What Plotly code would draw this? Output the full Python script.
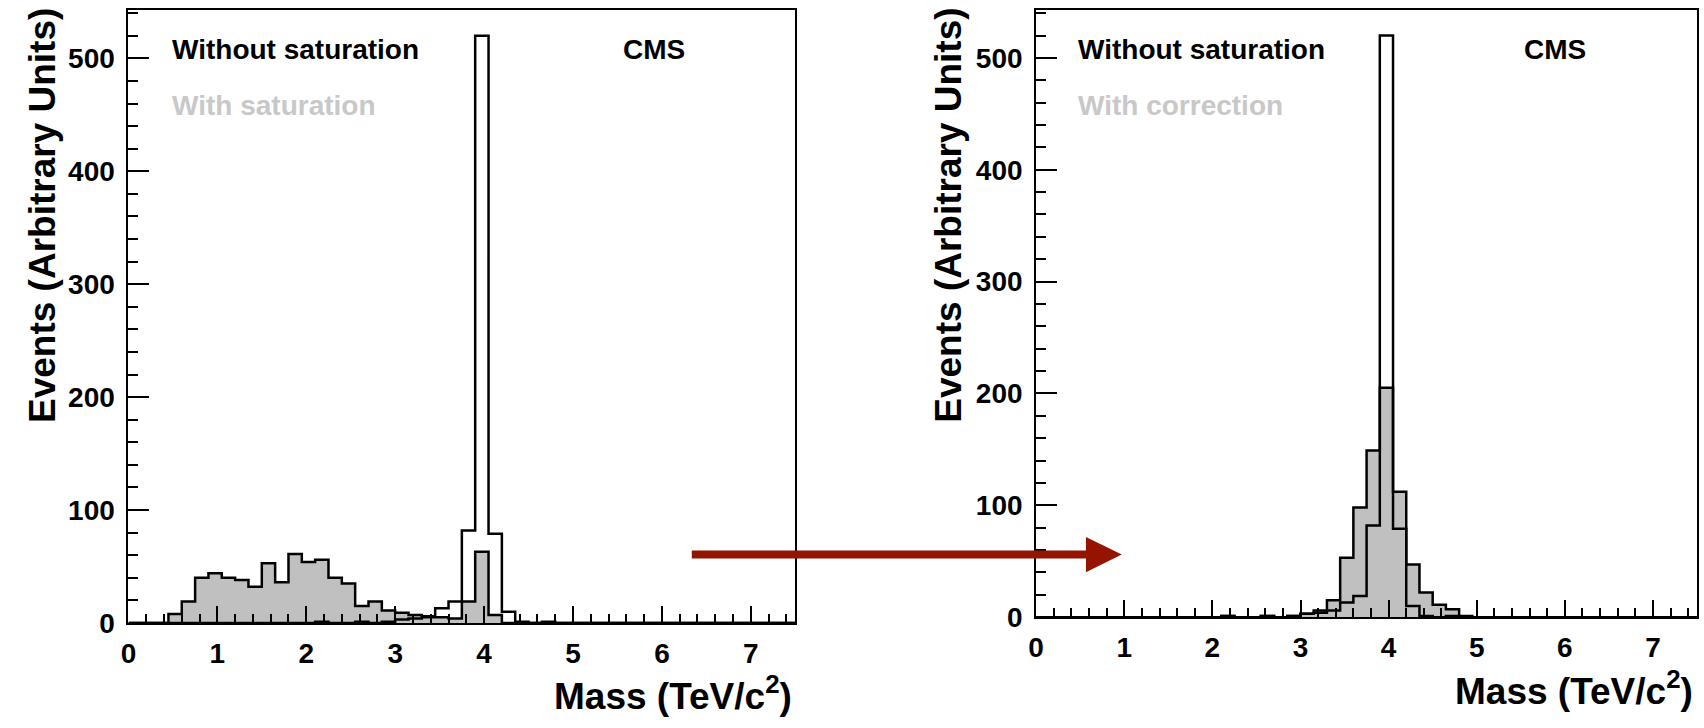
import numpy as np
import plotly.graph_objects as go

# ---------------- data (50 bins of 0.15 TeV/c^2 from 0 to 7.5) ----------------
bin_width = 0.15
n_bins = 50
x_min, x_max = 0.0, 7.5
y_max = 543

# "Without saturation" (white, outline only) - same sample in both panels
without_saturation = [0, 0, 0, 0, 0, 0, 0, 0, 0, 0,
                      0, 0, 0, 0, 1, 0, 0, 1, 0, 1,
                      3, 4, 6, 13, 19, 82, 520, 79, 10, 1,
                      0, 1, 0, 0, 0, 0, 0, 0, 0, 0,
                      0, 0, 0, 0, 0, 0, 0, 0, 0, 0]

# "With saturation" (grey, left panel)
with_saturation = [0, 0, 0, 8, 19, 40, 44, 40, 38, 32,
                   53, 36, 61, 54, 56, 40, 35, 15, 19, 11,
                   9, 7, 5, 5, 4, 19, 63, 7, 0, 0,
                   0, 0, 0, 0, 0, 0, 0, 0, 0, 0,
                   0, 0, 0, 0, 0, 0, 0, 0, 0, 0]

# "With correction" (grey, right panel)
with_correction = [0, 0, 0, 0, 0, 0, 0, 0, 0, 0,
                   0, 0, 0, 0, 1, 0, 0, 1, 0, 1,
                   3, 6, 15, 53, 98, 149, 205, 112, 47, 22,
                   11, 7, 1, 0, 0, 0, 0, 0, 0, 0,
                   0, 0, 0, 0, 0, 0, 0, 0, 0, 0]

x_tick_labels = ["0", "1", "2", "3", "4", "5", "6", "7"]
y_tick_labels = ["0", "100", "200", "300", "400", "500"]

# ---------------- styling ----------------
W, H = 1704, 728
FONT = "Liberation Sans, Arial, Helvetica, sans-serif"
FILL_GREY = "#c0c0c0"
TEXT_GREY = "#c8c8c8"
ARROW_RED = "#951400"
LW = 2.5

edges = np.arange(n_bins + 1) * bin_width


def step_xy(vals):
    v = list(vals) + [vals[-1]]
    return edges, v


def px(xp):
    """page pixel -> paper x"""
    return xp / W


def py(yp):
    """page pixel -> paper y"""
    return 1 - yp / H


fig = go.Figure()

panels = [
    dict(xa="x", ya="y", grey=with_saturation,
         xdom=[px(121), px(791)], ydom=[py(637), py(10)]),
    dict(xa="x2", ya="y2", grey=with_correction,
         xdom=[px(1033), px(1697)], ydom=[py(631), py(10)]),
]

for p in panels:
    xs, ys = step_xy(p["grey"])
    fig.add_trace(go.Scatter(x=xs, y=ys, mode="lines", line_shape="hv",
                             fill="tozeroy", fillcolor=FILL_GREY,
                             line=dict(color="black", width=LW),
                             xaxis=p["xa"], yaxis=p["ya"], showlegend=False,
                             hoverinfo="skip"))
    xs, ys = step_xy(without_saturation)
    fig.add_trace(go.Scatter(x=xs, y=ys, mode="lines", line_shape="hv",
                             line=dict(color="black", width=LW),
                             xaxis=p["xa"], yaxis=p["ya"], showlegend=False,
                             hoverinfo="skip"))

tickfont = dict(family=FONT, size=28, color="black", weight="bold")


def xaxis_cfg(dom, anchor):
    return dict(domain=dom, anchor=anchor, range=[x_min, x_max],
                tickmode="array", tickvals=[float(t) for t in x_tick_labels],
                ticktext=x_tick_labels,
                ticks="inside", ticklen=17, tickwidth=2, tickcolor="black",
                minor=dict(ticks="inside", ticklen=9, tickwidth=2,
                           tickcolor="black", dtick=0.2, tick0=0),
                showline=True, linecolor="black", linewidth=2, mirror=True,
                showgrid=False, zeroline=False, tickfont=tickfont,
                ticklabelstandoff=4, fixedrange=True)


def yaxis_cfg(dom, anchor):
    return dict(domain=dom, anchor=anchor, range=[0, y_max],
                tickmode="array", tickvals=[float(t) for t in y_tick_labels],
                ticktext=y_tick_labels,
                ticks="inside", ticklen=21, tickwidth=2, tickcolor="black",
                minor=dict(ticks="inside", ticklen=10, tickwidth=2,
                           tickcolor="black", dtick=20, tick0=0),
                showline=True, linecolor="black", linewidth=2, mirror=True,
                showgrid=False, zeroline=False, tickfont=tickfont,
                ticklabelstandoff=6, fixedrange=True)


fig.update_layout(
    width=W, height=H, autosize=False,
    margin=dict(l=0, r=0, t=0, b=0),
    paper_bgcolor="white", plot_bgcolor="white",
    xaxis=xaxis_cfg(panels[0]["xdom"], "y"),
    yaxis=yaxis_cfg(panels[0]["ydom"], "x"),
    xaxis2=xaxis_cfg(panels[1]["xdom"], "y2"),
    yaxis2=yaxis_cfg(panels[1]["ydom"], "x2"),
)

ann = []
txt_font = dict(family=FONT, size=28, color="black", weight="bold")
grey_font = dict(family=FONT, size=28, color=TEXT_GREY, weight="bold")
title_font = dict(family=FONT, size=37, color="black", weight="bold")

for xl, label, cms_x, xt_right, xt_y, yt_x in [
        (163, "With saturation", 649, 790, 709, 34),
        (1073, "With correction", 1554, 1695, 704, 945)]:
    ann.append(dict(x=px(xl), y=py(51), xref="paper", yref="paper",
                    text="Without saturation", showarrow=False,
                    xanchor="left", yanchor="middle", font=txt_font))
    ann.append(dict(x=px(xl), y=py(108), xref="paper", yref="paper",
                    text=label, showarrow=False,
                    xanchor="left", yanchor="middle", font=grey_font))
    ann.append(dict(x=px(cms_x), y=py(51), xref="paper", yref="paper",
                    text="CMS", showarrow=False,
                    xanchor="center", yanchor="middle", font=txt_font))
    ann.append(dict(x=px(xt_right), y=py(xt_y), xref="paper", yref="paper",
                    text="Mass (TeV/c<sup>2</sup>)", showarrow=False,
                    xanchor="right", yanchor="middle", font=title_font))
    ann.append(dict(x=px(yt_x), y=py(220), xref="paper", yref="paper",
                    text="Events (Arbitrary Units)", showarrow=False,
                    textangle=-90, xanchor="center", yanchor="middle",
                    font=title_font))

fig.update_layout(annotations=ann)

# red arrow between the two panels
shapes = [
    dict(type="line", xref="paper", yref="paper",
         x0=px(687), x1=px(1086), y0=py(567), y1=py(567),
         line=dict(color=ARROW_RED, width=8)),
    dict(type="path", xref="paper", yref="paper",
         path="M %f %f L %f %f L %f %f Z" % (px(1083), py(549), px(1119), py(567),
                                             px(1083), py(585)),
         fillcolor=ARROW_RED, line=dict(color=ARROW_RED, width=0)),
]
fig.update_layout(shapes=shapes)

# remove the default page margin so the figure sits at the window origin
fig.write_html(
    "out.html",
    config={"displayModeBar": False, "staticPlot": True},
    post_script=("document.body.style.margin='0';"
                 "document.body.style.overflow='hidden';"
                 "document.documentElement.style.overflow='hidden';"),
)
